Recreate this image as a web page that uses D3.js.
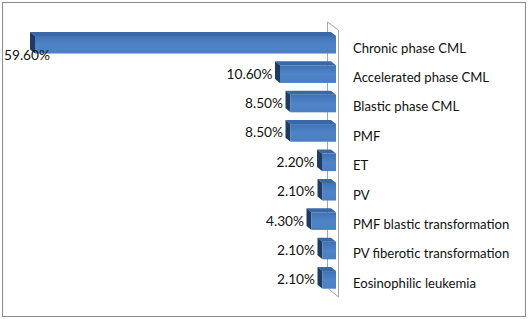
<!DOCTYPE html>
<html>
<head>
<meta charset="utf-8">
<script src="https://cdn.jsdelivr.net/npm/d3@7"></script>
<style>
  html, body { margin: 0; padding: 0; background: #fff; }
  svg { display: block; }
  text { font-family: Lato, "Open Sans", sans-serif; fill: #111; }
</style>
</head>
<body>
<svg id="chart" width="529" height="319"></svg>
<script>
const categories = [
  "Chronic phase CML",
  "Accelerated phase CML",
  "Blastic phase CML",
  "PMF",
  "ET",
  "PV",
  "PMF blastic transformation",
  "PV fiberotic transformation",
  "Eosinophilic leukemia"
];
const values = [59.6, 10.6, 8.5, 8.5, 2.2, 2.1, 4.3, 2.1, 2.1];
const valueLabels = ["59.60%", "10.60%", "8.50%", "8.50%", "2.20%", "2.10%", "4.30%", "2.10%", "2.10%"];

const svg = d3.select("#chart");

// outer border
svg.append("rect").attr("x", 2.5).attr("y", 2.5).attr("width", 523).attr("height", 314)
  .attr("fill", "#fff").attr("stroke", "#8c8c8c").attr("stroke-width", 1);

const x0 = 333;
const x = d3.scaleLinear().domain([0, 60]).range([x0, x0 - 60 * 5.0]);
const y = d3.scaleBand().domain(categories).range([30, 30 + 9 * 29.4]).paddingInner(0.4).paddingOuter(0.2);
const wallOffset = 3; // bars meet the front of the wall plane

const dx = -5, dy = -4; // depth offset
const bh = y.bandwidth();

const defs = svg.append("defs");
const g = defs.append("linearGradient").attr("id", "front").attr("x1", 0).attr("y1", 0).attr("x2", 0).attr("y2", 1);
g.append("stop").attr("offset", "0%").attr("stop-color", "#3f72b3");
g.append("stop").attr("offset", "50%").attr("stop-color", "#4f84c7");
g.append("stop").attr("offset", "100%").attr("stop-color", "#4a7fc2");

const wallBackX = 327, wallFrontX = 338;
svg.append("line").attr("x1", wallBackX + 0.5).attr("x2", wallBackX + 0.5).attr("y1", 22).attr("y2", 288)
  .attr("stroke", "#a6a6a6").attr("stroke-width", 1);

const bars = svg.append("g");
categories.forEach((c, i) => {
  const v = values[i];
  const xl = x(v), xr = x(0) + wallOffset;
  const yt = y(c), yb = yt + bh;
  const gg = bars.append("g");
  gg.append("path")
    .attr("d", `M${xl},${yt}L${xr},${yt}L${xr + dx},${yt + dy}L${xl + dx},${yt + dy}Z`)
    .attr("fill", "#3a68a6");
  gg.append("path")
    .attr("d", `M${xl},${yt}L${xl},${yb}L${xl + dx},${yb + dy}L${xl + dx},${yt + dy}Z`)
    .attr("fill", "#1f3b63");
  gg.append("rect").attr("x", xl).attr("y", yt).attr("width", xr - xl).attr("height", bh)
    .attr("fill", "url(#front)");
});

svg.append("path")
  .attr("d", `M${wallBackX + 0.5},22L${wallFrontX + 0.5},30L${wallFrontX + 0.5},297L${wallBackX + 0.5},288`)
  .attr("fill", "none").attr("stroke", "#a6a6a6").attr("stroke-width", 1);

const catTexts = svg.append("g").selectAll("text").data(categories).enter().append("text")
  .attr("x", 353)
  .attr("y", d => y(d) + bh / 2 + 4.5)
  .attr("dominant-baseline", "middle")
  .style("font-size", "13px")
  .text(d => d);
const w0 = catTexts.nodes()[0].getComputedTextLength();
catTexts.style("font-size", (13 * 113 / w0) + "px");

const valTexts = svg.append("g").selectAll("text").data(categories).enter().append("text")
  .attr("dominant-baseline", "middle")
  .style("font-size", "13px")
  .text((d, i) => valueLabels[i]);
const vw = valTexts.nodes()[1].getComputedTextLength();
valTexts.style("font-size", (13 * 46 / vw) + "px");
valTexts.each(function(d, i) {
  const w = this.getComputedTextLength();
  let xe = x(values[i]) + dx - 2.5;
  let yc = y(d) + bh / 2 + 1;
  if (xe - w < 4) { xe = 4 + w; yc += 11; }
  d3.select(this).attr("x", xe).attr("y", yc).attr("text-anchor", "end");
});
</script>
</body>
</html>
